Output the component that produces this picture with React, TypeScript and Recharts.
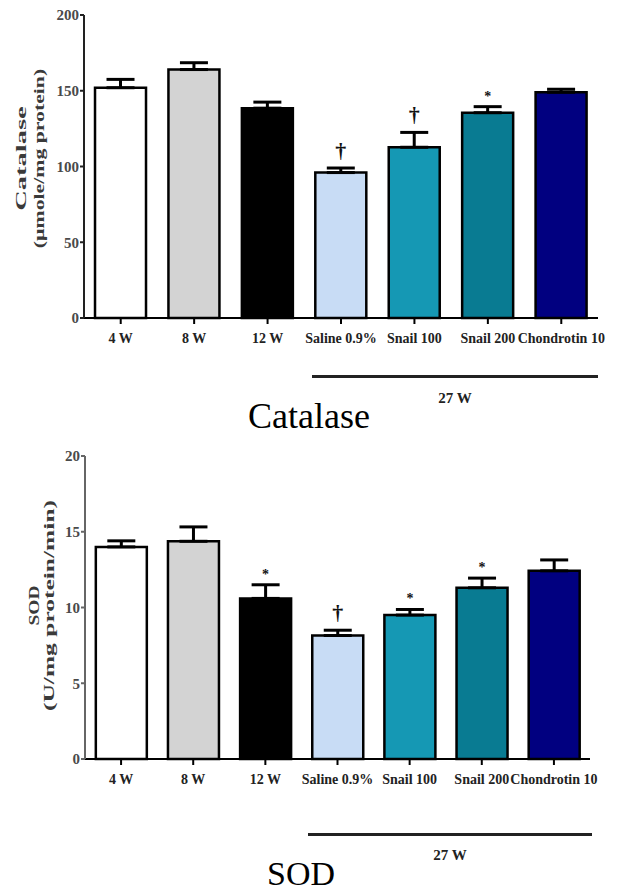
import React from 'react';
import { BarChart, Bar, XAxis, YAxis, ErrorBar, Cell, LabelList } from 'recharts';

const groups = ['4 W', '8 W', '12 W', 'Saline 0.9%', 'Snail 100', 'Snail 200', 'Chondrotin 10'];
const fills = ['#ffffff', '#d3d3d3', '#000000', '#c8dcf5', '#1598b4', '#097b92', '#010080'];

const catalaseMean = [152, 164, 138.5, 96, 112.7, 135.5, 149];
const catalaseSem = [5.5, 4.5, 4, 3, 9.8, 4, 2];
const catalaseMarks = ['', '', '', '†', '†', '*', ''];
const catalaseTicks = [0, 50, 100, 150, 200];

const sodMean = [14.0, 14.37, 10.6, 8.15, 9.5, 11.3, 12.42];
const sodSem = [0.4, 0.95, 0.9, 0.35, 0.37, 0.64, 0.72];
const sodMarks = ['', '', '*', '†', '*', '*', ''];
const sodTicks = [0, 5, 10, 15, 20];

const serif = "'Liberation Serif', Tinos, 'DejaVu Serif', serif";

function rows(mean: number[], sem: number[], marks: string[]) {
  return groups.map((g, i) => ({ group: g, mean: mean[i], err: [0, sem[i]], sem: sem[i], mark: marks[i] }));
}

// marker above the error bar; error height in px taken from the bar's own scale
const markLabel = (data: any[]) => (props: any) => {
  const { index } = props;
  const vb = props.viewBox || props;
  const d = data[index];
  if (!d || !d.mark) return null;
  const errPx = (vb.height * d.sem) / d.mean;
  const cx = vb.x + vb.width / 2;
  const top = vb.y - errPx;
  const dagger = d.mark === '†';
  return (
    <text
      x={cx}
      y={dagger ? top - 10 : top - 6}
      textAnchor="middle"
      style={{ fontFamily: serif, fontWeight: 'bold', fontSize: dagger ? 22 : 14 }}
      fill="#111"
    >
      {d.mark}
    </text>
  );
};

// two-line rotated y title, glyphs stretched along the text like the source figure
// t = [line1, line2, x1 offset, x2 offset, dy, stretch1, stretch2]
const yTitle = (t: any[]) => (props: any) => {
  const [line1, line2, o1, o2, dy, s1, s2] = t;
  const vb = props.viewBox;
  const cy = vb.y + vb.height / 2 + dy;
  const x1 = vb.x + o1;
  const x2 = vb.x + o2;
  return (
    <g style={{ fontFamily: serif, fontWeight: 'bold', fontSize: 15 }} fill="#3a3a3a">
      <text x={0} y={0} textAnchor="middle" transform={`translate(${x1} ${cy}) rotate(-90) scale(${s1} 1)`}>{line1}</text>
      <text x={0} y={0} textAnchor="middle" transform={`translate(${x2} ${cy}) rotate(-90) scale(${s2} 1)`}>{line2}</text>
    </g>
  );
};

function Panel({ data, ticks, max, title, right, left, axisColor }: any) {
  return (
    <BarChart
      width={628}
      height={350}
      data={data}
      margin={{ top: 15, right, left, bottom: 0 }}
      barCategoryGap="15%"
      style={{ fontFamily: serif }}
    >
      <XAxis
        dataKey="group"
        height={32}
        interval={0}
        tickSize={6}
        tickMargin={9}
        stroke="#000"
        strokeWidth={2}
        tick={{ style: { fontFamily: serif, fontWeight: 'bold', fontSize: 14 }, fill: '#222' }}
      />
      <YAxis
        domain={[0, max]}
        ticks={ticks}
        width={34}
        tickSize={4}
        tickMargin={1}
        stroke={axisColor}
        strokeWidth={2}
        tick={{ style: { fontFamily: serif, fontWeight: 'bold', fontSize: 15 }, fill: '#4a4a4a' }}
        label={{ content: yTitle(title) }}
      />
      <Bar dataKey="mean" stroke="#000" strokeWidth={2.5} isAnimationActive={false}>
        {data.map((d: any, i: number) => (
          <Cell key={d.group} fill={fills[i]} />
        ))}
        <ErrorBar dataKey="err" direction="y" width={14} stroke="#000" strokeWidth={3} isAnimationActive={false} />
        <LabelList dataKey="mark" content={markLabel(data)} />
      </Bar>
    </BarChart>
  );
}

const abs = (l: number, t: number): React.CSSProperties => ({ position: 'absolute', left: l, top: t });
const subStyle: React.CSSProperties = { width: 60, textAlign: 'center', fontWeight: 'bold', fontSize: 15, lineHeight: '16px', color: '#222' };

export default function App() {
  const cat = rows(catalaseMean, catalaseSem, catalaseMarks);
  const sod = rows(sodMean, sodSem, sodMarks);
  return (
    <div style={{ position: 'absolute', left: 0, top: 0, width: 628, height: 893, background: '#fff', overflow: 'hidden', fontFamily: serif }}>
      <div style={abs(0, 0)}>
        <Panel
          data={cat}
          ticks={catalaseTicks}
          max={200}
          title={['Catalase', '(µmole/mg protein)', -24, -6, -8, 1.9, 1.45]}
          right={30}
          left={50}
          axisColor="#222"
        />
      </div>
      <div style={{ ...abs(312, 375), width: 286, height: 3, background: '#222' }} />
      <div style={{ ...abs(425, 390), ...subStyle }}>27 W</div>
      <div style={{ ...abs(248, 398), fontSize: 36, lineHeight: '36px', color: '#000' }}>Catalase</div>

      <div style={abs(0, 441)}>
        <Panel
          data={sod}
          ticks={sodTicks}
          max={20}
          title={['SOD', '(U/mg protein/min)', -12, 3, -2, 1.3, 1.7]}
          right={38}
          left={51}
          axisColor="#666"
        />
      </div>
      <div style={{ ...abs(308, 833), width: 284, height: 3, background: '#222' }} />
      <div style={{ ...abs(420, 847), ...subStyle }}>27 W</div>
      <div style={{ ...abs(267, 858), fontSize: 34, lineHeight: '32px', color: '#000' }}>SOD</div>
    </div>
  );
}
